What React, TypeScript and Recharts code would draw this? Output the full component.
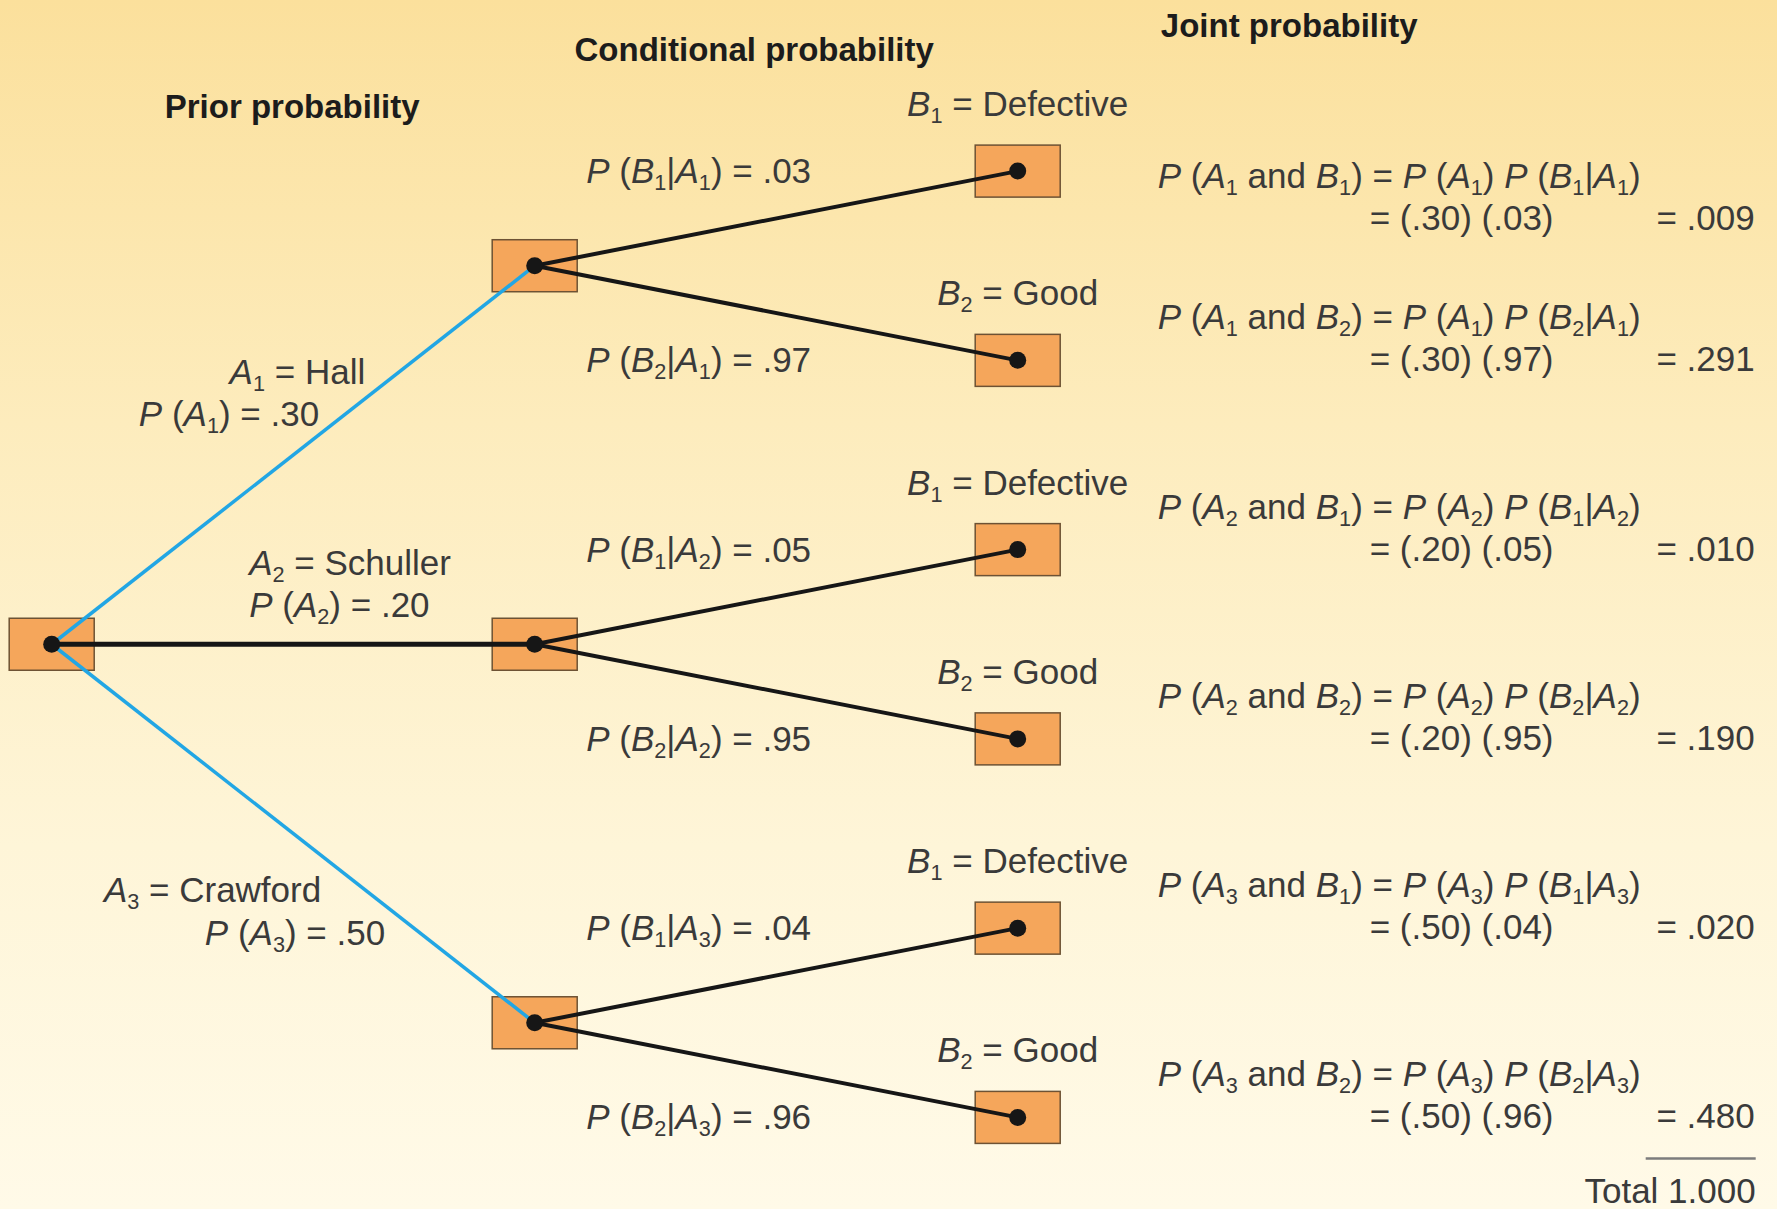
import { ScatterChart, Scatter, XAxis, YAxis } from "recharts";

// ---- data ----
const suppliers = ["Hall", "Schuller", "Crawford"];
const priorProbs = [0.3, 0.2, 0.5];
const outcomes = ["Defective", "Good"];
const conditionalProbs = [
  [0.03, 0.97],
  [0.05, 0.95],
  [0.04, 0.96],
];
const columnTitles = ["Prior probability", "Conditional probability", "Joint probability"];
const titleColumns = [0.5, 1.5, 2.5];

// ---- layout / style ----
const W = 1777;
const H = 1209;
const FONT = "'Liberation Sans', Arial, Helvetica, sans-serif";
const TEXT = "#3a3a3a";
const BLUE = "#22a6e4";
const BLACK = "#161616";
const FS = 35;

// stage axis: origin px + px per stage; slot axis: origin px + px per slot
const X0 = 51.7, XK = 483;
const Y0 = 171.1, YK = 189.26;
const xDomain = [-X0 / XK, (W - X0) / XK];
const yDomain = [-Y0 / YK, (H - Y0) / YK];

const headerLayout = [
  { dx: -1, y: 118 },
  { dx: -22, y: 61 },
  { dx: 30, y: 37 },
];

// offsets from the middle of each prior branch: [dx, dy] for both lines
const priorLabelLayout = [
  { anchor: "end", lines: [[72, -71], [26, -29]] },
  { anchor: "start", lines: [[-44, -69], [-44, -27]] },
  { anchor: "end", lines: [[28, 68], [92, 111]] },
];

const fmt2 = (v: number) => v.toFixed(2).replace(/^0/, "");
const fmt3 = (v: number) => v.toFixed(3).replace(/^0/, "");

// ---- tree structure ----
const nLeaves = suppliers.length * outcomes.length;
const root = { x: 0, y: (nLeaves - 1) / 2 };
const mids = suppliers.map((_, i) => ({
  x: 1,
  y: i * outcomes.length + (outcomes.length - 1) / 2,
  i,
}));
const leaves = suppliers.flatMap((_, i) =>
  outcomes.map((_o, j) => ({ x: 2, y: i * outcomes.length + j, i, j, row: i * outcomes.length + j }))
);
const allNodes = [root, ...mids, ...leaves];

const edges = [
  ...mids.map((m, i) => ({
    key: `p${i}`,
    pts: [root, m],
    color: i === 1 ? BLACK : BLUE,
    width: i === 1 ? 5 : 3.5,
  })),
  ...leaves.map((l) => ({
    key: `c${l.row}`,
    pts: [mids[l.i], l],
    color: BLACK,
    width: 4,
  })),
];

const priorLabelPoints = mids.map((m, i) => ({
  x: (root.x + m.x) / 2,
  y: (root.y + m.y) / 2,
  i,
}));
const conditionalLabelPoints = leaves.map((l) => ({ x: 1.5, y: l.y, i: l.i, j: l.j }));
const headerPoints = titleColumns.map((x, k) => ({ x, y: root.y, k }));

const jointTotal = leaves.reduce(
  (s, l) => s + priorProbs[l.i] * conditionalProbs[l.i][l.j],
  0
);

// P, A, B are italic variables; _n makes a subscript digit
type Part = { t: string; it?: boolean; sub?: boolean };
const parse = (s: string) => {
  const parts: Part[] = [];
  for (let k = 0; k < s.length; k++) {
    const ch = s[k];
    const last = parts[parts.length - 1];
    if (ch === "_") {
      parts.push({ t: s[k + 1], sub: true });
      k++;
    } else if ("PAB".includes(ch)) {
      parts.push({ t: ch, it: true });
    } else if (last && !last.it && !last.sub) {
      last.t += ch;
    } else {
      parts.push({ t: ch });
    }
  }
  return parts;
};

const Rich = ({ x, y, text, anchor = "start" }: any) => {
  const parts = parse(text);
  const drop = FS * 0.2;
  let shifted = false;
  return (
    <text
      x={x}
      y={y}
      textAnchor={anchor}
      fontSize={FS}
      fill={TEXT}
      fontFamily={FONT}
      style={{ whiteSpace: "pre" }}
    >
      {parts.map((p, k) => {
        let dy = 0;
        if (p.sub && !shifted) {
          dy = drop;
          shifted = true;
        } else if (!p.sub && shifted) {
          dy = -drop;
          shifted = false;
        }
        return (
          <tspan
            key={k}
            dy={dy || undefined}
            fontStyle={p.it ? "italic" : undefined}
            fontSize={p.sub ? FS * 0.62 : undefined}
          >
            {p.t}
          </tspan>
        );
      })}
    </text>
  );
};

// ---- shapes ----
const NodeBox = ({ cx, cy }: any) => (
  <rect
    x={cx - 42.5}
    y={cy - 26}
    width={85}
    height={52}
    fill="#f5a65b"
    stroke="#6d5234"
    strokeWidth={1.5}
  />
);

const NodeDot = ({ cx, cy }: any) => <circle cx={cx} cy={cy} r={8.5} fill={BLACK} />;

const Empty = () => <g />;

const Header = ({ cx, payload }: any) => {
  const h = headerLayout[payload.k];
  return (
    <text
      x={cx + h.dx}
      y={h.y}
      textAnchor="middle"
      fontSize={33}
      fontWeight="bold"
      fill="#1c1c1c"
      fontFamily={FONT}
    >
      {columnTitles[payload.k]}
    </text>
  );
};

const PriorLabel = ({ cx, cy, payload }: any) => {
  const i = payload.i;
  const lay = priorLabelLayout[i];
  return (
    <g>
      <Rich
        x={cx + lay.lines[0][0]}
        y={cy + lay.lines[0][1]}
        anchor={lay.anchor}
        text={`A_${i + 1} = ${suppliers[i]}`}
      />
      <Rich
        x={cx + lay.lines[1][0]}
        y={cy + lay.lines[1][1]}
        anchor={lay.anchor}
        text={`P (A_${i + 1}) = ${fmt2(priorProbs[i])}`}
      />
    </g>
  );
};

const ConditionalLabel = ({ cx, cy, payload }: any) => {
  const { i, j } = payload;
  return (
    <Rich
      x={cx - 190}
      y={cy + 12}
      text={`P (B_${j + 1}|A_${i + 1}) = ${fmt2(conditionalProbs[i][j])}`}
    />
  );
};

const OutcomeLabel = ({ cx, cy, payload }: any) => (
  <Rich
    x={cx}
    y={cy - 55}
    anchor="middle"
    text={`B_${payload.j + 1} = ${outcomes[payload.j]}`}
  />
);

const JointLabel = ({ cx, cy, payload }: any) => {
  const { i, j, row } = payload;
  const [d1, d2] = row === 0 ? [17, 59] : [-31, 11];
  const p = priorProbs[i];
  const c = conditionalProbs[i][j];
  return (
    <g>
      <Rich
        x={cx + 140}
        y={cy + d1}
        text={`P (A_${i + 1} and B_${j + 1}) = P (A_${i + 1}) P (B_${j + 1}|A_${i + 1})`}
      />
      <Rich x={cx + 352} y={cy + d2} text={`= (${fmt2(p)}) (${fmt2(c)})`} />
      <Rich x={cx + 737} y={cy + d2} anchor="end" text={`= ${fmt3(p * c)}`} />
    </g>
  );
};

const TotalLabel = ({ cx, cy }: any) => (
  <g>
    <line
      x1={cx + 628}
      x2={cx + 738}
      y1={cy + 41}
      y2={cy + 41}
      stroke="#7c7c7c"
      strokeWidth={2.5}
    />
    <Rich x={cx + 738} y={cy + 86} anchor="end" text={`Total ${jointTotal.toFixed(3)}`} />
  </g>
);

export default function App() {
  return (
    <div
      style={{
        position: "absolute",
        left: 0,
        top: 0,
        width: W,
        height: H,
        background: "linear-gradient(to bottom, #fbe09c 0%, #fdecbd 35%, #fef5d8 70%, #fffae8 100%)",
      }}
    >
      <ScatterChart width={W} height={H} margin={{ top: 0, right: 0, bottom: 0, left: 0 }}>
        <XAxis type="number" dataKey="x" domain={xDomain} allowDataOverflow hide />
        <YAxis type="number" dataKey="y" domain={yDomain} allowDataOverflow reversed hide />
        <Scatter data={allNodes} shape={NodeBox} isAnimationActive={false} />
        {edges.map((e) => (
          <Scatter
            key={e.key}
            data={e.pts}
            line={{ stroke: e.color, strokeWidth: e.width }}
            shape={Empty}
            isAnimationActive={false}
          />
        ))}
        <Scatter data={allNodes} shape={NodeDot} isAnimationActive={false} />
        <Scatter data={headerPoints} shape={Header} isAnimationActive={false} />
        <Scatter data={priorLabelPoints} shape={PriorLabel} isAnimationActive={false} />
        <Scatter data={conditionalLabelPoints} shape={ConditionalLabel} isAnimationActive={false} />
        <Scatter data={leaves} shape={OutcomeLabel} isAnimationActive={false} />
        <Scatter data={leaves} shape={JointLabel} isAnimationActive={false} />
        <Scatter data={leaves.slice(-1)} shape={TotalLabel} isAnimationActive={false} />
      </ScatterChart>
    </div>
  );
}
